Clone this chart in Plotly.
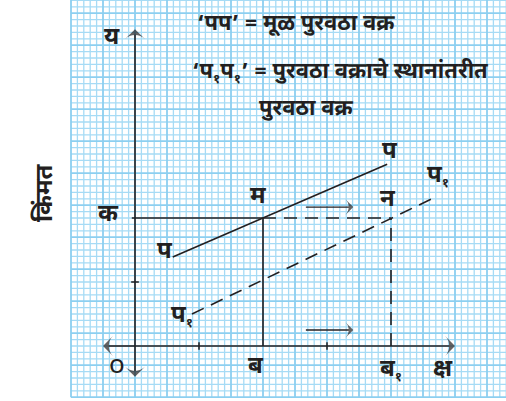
import plotly.graph_objects as go

# ---- data (in axis units) ----
original_supply_x = [0.59, 3.94]   # 'पप'
original_supply_y = [1.39, 2.84]
shifted_supply_x = [0.89, 4.66]    # 'प१प१'
shifted_supply_y = [0.50, 2.31]
price_k = 2.0                      # क
qty_b = 2.0                        # ब
qty_b1 = 4.0                       # ब१
y_tick_vals = [1.0]
x_tick_vals = [1.0, 3.0]

INK = "#231f20"
FONT = "Noto Sans Devanagari, Noto Sans, sans-serif"
SUB1 = "<sub><span style='font-size:13px'>१</span></sub>"

fig = go.Figure()

# ---- graph paper grid ----
gx0, gx1, gy0, gy1 = -1.0, 5.8, -0.8, 5.45
minor_x, minor_y, major_x, major_y = [], [], [], []
for i in range(int(round((gx1 - gx0) * 10)) + 1):
    v = gx0 + i * 0.1
    tx, ty = (major_x, major_y) if i % 5 == 0 else (minor_x, minor_y)
    tx += [v, v, None]
    ty += [gy0, gy1, None]
for i in range(int(round((gy1 - gy0) * 10)) + 1):
    v = gy0 + i * 0.1
    tx, ty = (major_x, major_y) if i % 5 == 0 else (minor_x, minor_y)
    tx += [gx0, gx1, None]
    ty += [v, v, None]
fig.add_trace(go.Scatter(x=minor_x, y=minor_y, mode="lines",
                         line=dict(color="#a6dbf5", width=1.3), hoverinfo="skip"))
fig.add_trace(go.Scatter(x=major_x, y=major_y, mode="lines",
                         line=dict(color="#8ccff0", width=1.8), hoverinfo="skip"))

def seg(xs, ys, dash="solid", width=1.6):
    fig.add_trace(go.Scatter(x=xs, y=ys, mode="lines",
                             line=dict(color=INK, width=width, dash=dash),
                             hoverinfo="skip"))

def arrow(x0, y0, x1, y1, size=14, width=1.6):
    fig.add_trace(go.Scatter(x=[x0, x1], y=[y0, y1], mode="lines+markers",
                             line=dict(color=INK, width=width),
                             marker=dict(symbol="arrow-wide", size=[0, size], color=INK,
                                         angleref="previous", line=dict(width=0)),
                             hoverinfo="skip"))

# axes with arrowheads at both ends
arrow(0, 0, 0, 4.95)
arrow(0, 0, 0, -0.48)
arrow(0, 0, -0.5, 0)
arrow(0, 0, 5.0, 0)
# ticks
for t in y_tick_vals:
    seg([-0.06, 0.06], [t, t], width=1.5)
for t in x_tick_vals:
    seg([t, t], [-0.06, 0.06], width=1.5)

# supply curves
seg(original_supply_x, original_supply_y)
seg(shifted_supply_x, shifted_supply_y, dash="13px,8px")

# guide lines
seg([-0.05, qty_b], [price_k, price_k])
seg([qty_b, qty_b1], [price_k, price_k], dash="13px,8px")
seg([qty_b, qty_b], [0, price_k])
seg([qty_b1, qty_b1], [0, price_k], dash="13px,8px")

# shift arrows
arrow(2.67, 2.17, 3.41, 2.17, size=11, width=1.4)
arrow(2.67, 0.25, 3.41, 0.25, size=11, width=1.4)

ann = []
def label(x, y, text, size=24, bold=True):
    t = "<b>" + text + "</b>" if bold else text
    ann.append(dict(x=x, y=y, xref="x", yref="y", text=t, showarrow=False,
                    font=dict(family=FONT, size=size, color=INK)))

label(-0.36, 4.81, "य")
label(-0.42, 2.05, "क")
label(0.47, 1.47, "प")
label(0.74, 0.47, "प" + SUB1)
label(1.92, 2.33, "म")
label(3.95, 2.28, "न")
label(3.98, 3.03, "प")
label(4.73, 2.66, "प" + SUB1)
label(-0.28, -0.33, "o", size=26, bold=False)
label(1.89, -0.33, "ब")
label(4.0, -0.38, "ब" + SUB1)
label(4.81, -0.37, "क्ष")

def title(x, y, text, size=22):
    ann.append(dict(x=x, y=y, xref="x", yref="y", text="<b>" + text + "</b>", showarrow=False,
                    font=dict(family=FONT, size=size, color=INK)))

title(2.52, 5.02, "‘पप’ = मूळ पुरवठा वक्र")
title(3.2, 4.27, "‘प" + SUB1 + "प" + SUB1 + "’ = पुरवठा वक्राचे स्थानांतरीत")
title(2.67, 3.69, "पुरवठा वक्र")

ann.append(dict(x=28 / 506, y=1 - 193 / 401, xref="paper", yref="paper",
                text="<b>किंमत</b>", showarrow=False, textangle=-90,
                font=dict(family=FONT, size=24, color=INK)))

fig.update_layout(
    width=506, height=401,
    margin=dict(l=0, r=0, t=0, b=0),
    paper_bgcolor="white", plot_bgcolor="white",
    showlegend=False,
    xaxis=dict(range=[-135 / 64, (506 - 135) / 64], visible=False, fixedrange=True),
    yaxis=dict(range=[(346 - 401) / 64, 346 / 64], visible=False, fixedrange=True),
    annotations=ann,
)

fig.write_html("out.html", config={"displayModeBar": False},
               post_script="document.body.style.margin='0';document.body.style.overflow='hidden';")
